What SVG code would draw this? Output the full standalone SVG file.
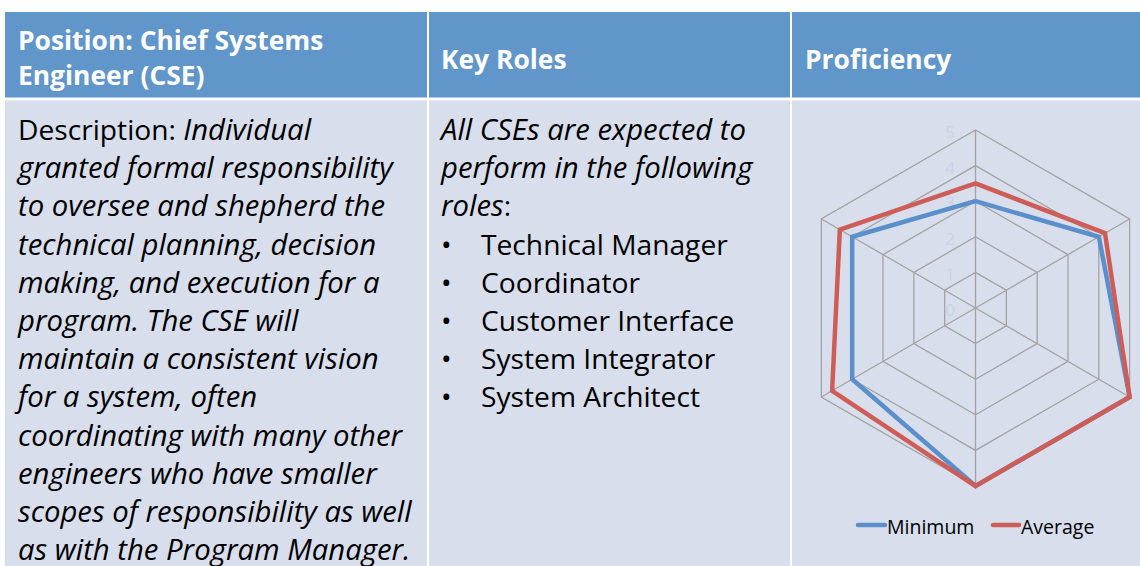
<svg xmlns="http://www.w3.org/2000/svg" width="1140" height="566" viewBox="0 0 1140 566">
<style>
.hd{fill:#6096C9}
.bd{fill:#D8DEEC}
.ht{font-family:"Open Sans","Liberation Sans",sans-serif;font-weight:bold;font-size:26.4px;fill:#FFFFFF}
.bt{font-family:"Open Sans","Liberation Sans",sans-serif;font-size:28.2px;fill:#000000}
.it{font-style:italic;font-size:29.3px}
.grid{fill:none;stroke:#A3A3A3;stroke-width:1.3}
.ax{font-family:"Open Sans","Liberation Sans",sans-serif;font-size:17px;fill:#CBD2E3;text-anchor:middle}
.smin{fill:none;stroke:#5A8FCB;stroke-width:4.5;stroke-linejoin:miter}
.savg{fill:none;stroke:#CF5D57;stroke-width:4.5;stroke-linejoin:miter}
.lg{font-family:"Open Sans","Liberation Sans",sans-serif;font-size:19.5px;fill:#000000}
</style>
<rect width="1140" height="566" fill="#FFFFFF"/>
<g id="header-position">
<rect class="hd" x="5" y="12" width="422" height="85.5"/>
<text class="ht" x="18" y="50">Position: Chief Systems</text>
<text class="ht" x="18" y="84.5">Engineer (CSE)</text>
</g>
<g id="header-roles">
<rect class="hd" x="429" y="12" width="361" height="85.5"/>
<text class="ht" x="441" y="69">Key Roles</text>
</g>
<g id="header-proficiency">
<rect class="hd" x="792" y="12" width="348" height="85.5"/>
<text class="ht" x="805" y="69">Proficiency</text>
</g>
<g id="cell-description">
<rect class="bd" x="5" y="100.5" width="422" height="466"/>
<text class="bt" x="18" y="140">Description: <tspan class="it">Individual</tspan></text>
<text class="bt it" x="18" y="178.2">granted formal responsibility</text>
<text class="bt it" x="18" y="216.4">to oversee and shepherd the</text>
<text class="bt it" x="18" y="254.6">technical planning, decision</text>
<text class="bt it" x="18" y="292.8">making, and execution for a</text>
<text class="bt it" x="18" y="331">program. The CSE will</text>
<text class="bt it" x="18" y="369.2">maintain a consistent vision</text>
<text class="bt it" x="18" y="407.4">for a system, often</text>
<text class="bt it" x="18" y="445.6">coordinating with many other</text>
<text class="bt it" x="18" y="483.8">engineers who have smaller</text>
<text class="bt it" x="18" y="522">scopes of responsibility as well</text>
<text class="bt it" x="18" y="560.2">as with the Program Manager.</text>
</g>
<g id="cell-roles">
<rect class="bd" x="429" y="100.5" width="361" height="466"/>
<text class="bt it" x="441" y="140">All CSEs are expected to</text>
<text class="bt it" x="441" y="178.2">perform in the following</text>
<text class="bt" x="441" y="216.4"><tspan class="it">roles</tspan>:</text>
<text class="bt" x="441" y="254.6">•</text>
<text class="bt" x="481" y="254.6">Technical Manager</text>
<text class="bt" x="441" y="292.8">•</text>
<text class="bt" x="481" y="292.8">Coordinator</text>
<text class="bt" x="441" y="331">•</text>
<text class="bt" x="481" y="331">Customer Interface</text>
<text class="bt" x="441" y="369.2">•</text>
<text class="bt" x="481" y="369.2">System Integrator</text>
<text class="bt" x="441" y="407.4">•</text>
<text class="bt" x="481" y="407.4">System Architect</text>
</g>
<g id="cell-proficiency">
<rect class="bd" x="792" y="100.5" width="348" height="466"/>
<g id="radar-grid">
<polygon class="grid" points="975.5,272.4 1006.33,290.2 1006.33,325.8 975.5,343.6 944.67,325.8 944.67,290.2"/>
<polygon class="grid" points="975.5,236.8 1037.16,272.4 1037.16,343.6 975.5,379.2 913.84,343.6 913.84,272.4"/>
<polygon class="grid" points="975.5,201.2 1067.99,254.6 1067.99,361.4 975.5,414.8 883.01,361.4 883.01,254.6"/>
<polygon class="grid" points="975.5,165.6 1098.82,236.8 1098.82,379.2 975.5,450.4 852.18,379.2 852.18,236.8"/>
<polygon class="grid" points="975.5,130 1129.65,219 1129.65,397 975.5,486 821.35,397 821.35,219"/>
<path class="grid" d="M975.5,308V130M975.5,308L1129.65,219M975.5,308L1129.65,397M975.5,308V486M975.5,308L821.35,397M975.5,308L821.35,219"/>
</g>
<g id="radar-axis-labels">
<text class="ax" x="950" y="316">0</text>
<text class="ax" x="950" y="280.4">1</text>
<text class="ax" x="950" y="244.8">2</text>
<text class="ax" x="950" y="209.2">3</text>
<text class="ax" x="950" y="173.6">4</text>
<text class="ax" x="950" y="138">5</text>
</g>
<g id="series-minimum">
<polygon class="smin" points="975.5,201.2 1098.82,236.8 1129.65,397 975.5,486 852.18,379.2 852.18,236.8"/>
</g>
<g id="series-average">
<polygon class="savg" points="975.5,183.4 1104.99,233.24 1129.65,397 975.5,486 832.14,390.77 839.85,229.68"/>
</g>
<g id="legend">
<line x1="858" y1="525" x2="885" y2="525" stroke="#5A8FCB" stroke-width="4.5" stroke-linecap="round"/>
<text class="lg" x="887" y="534">Minimum</text>
<line x1="993" y1="525" x2="1019" y2="525" stroke="#CF5D57" stroke-width="4.5" stroke-linecap="round"/>
<text class="lg" x="1021" y="534">Average</text>
</g>
</g>
</svg>
